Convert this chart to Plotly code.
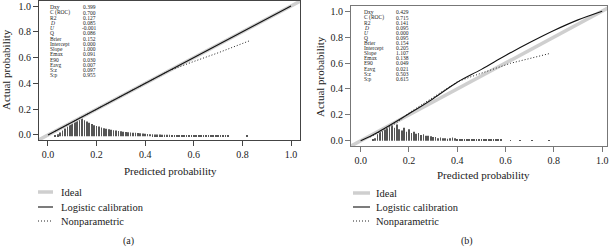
import plotly.graph_objects as go

W, H = 614, 248
FONT = "Liberation Serif"

# ---------------- data ----------------
stat_names = ["Dxy", "C (ROC)", "R2", "<i>D</i>", "<i>U</i>", "Q", "Brier", "Intercept",
              "Slope", "Emax", "E90", "Eavg", "S:z", "S:p"]
stats_a = ["0.399", "0.700", "0.127", "0.085", "-0.001", "0.086", "0.152", "0.000",
           "1.000", "0.091", "0.030", "0.007", "0.097", "0.955"]
stats_b = ["0.429", "0.715", "0.141", "0.095", "0.000", "0.095", "0.154", "0.205",
           "1.107", "0.138", "0.049", "0.021", "0.503", "0.615"]

ideal_x = [-0.05, 1.05]
ideal_y = [-0.05, 1.05]

logit_a_x = [0.0, 0.25, 0.5, 0.75, 1.0]
logit_a_y = [0.0, 0.25, 0.5, 0.75, 1.0]
logit_b_x = [0.0, 0.05, 0.1, 0.2, 0.3, 0.4, 0.5, 0.6, 0.7, 0.8, 0.9, 1.0]
logit_b_y = [0.0, 0.045, 0.097, 0.209, 0.325, 0.452, 0.551, 0.658, 0.758, 0.851, 0.933, 1.0]

nonpar_a_x = [0.03, 0.1, 0.2, 0.3, 0.4, 0.5, 0.6, 0.7, 0.83]
nonpar_a_y = [0.03, 0.1, 0.2, 0.3, 0.4, 0.5, 0.57, 0.637, 0.731]
nonpar_b_x = [0.04, 0.1, 0.15, 0.2, 0.3, 0.4, 0.45, 0.55, 0.62, 0.7, 0.786]
nonpar_b_y = [0.03, 0.09, 0.14, 0.215, 0.335, 0.455, 0.49, 0.553, 0.598, 0.635, 0.675]

spike_a_x = [0.03, 0.04, 0.05, 0.06, 0.07, 0.08, 0.09, 0.10, 0.11, 0.12, 0.13, 0.14, 0.15,
             0.16, 0.17, 0.18, 0.19, 0.20, 0.21, 0.22, 0.23, 0.24, 0.25, 0.26, 0.27, 0.28,
             0.29, 0.30, 0.31, 0.32, 0.33, 0.34, 0.35, 0.36, 0.37, 0.38, 0.39, 0.40, 0.41,
             0.42, 0.43, 0.44, 0.45, 0.46, 0.47, 0.48, 0.49, 0.50, 0.51, 0.52, 0.53, 0.54,
             0.55, 0.56, 0.57, 0.58, 0.59, 0.60, 0.61, 0.62, 0.63, 0.64, 0.65, 0.66, 0.67,
             0.68, 0.69, 0.70, 0.71, 0.72, 0.73, 0.74, 0.82]
spike_a_h = [0.008, 0.015, 0.03, 0.045, 0.06, 0.075, 0.09, 0.105, 0.115, 0.125, 0.135, 0.14, 0.125,
             0.115, 0.105, 0.095, 0.085, 0.08, 0.075, 0.068, 0.062, 0.058, 0.055, 0.05, 0.047, 0.044,
             0.04, 0.038, 0.035, 0.033, 0.031, 0.03, 0.028, 0.027, 0.026, 0.024, 0.022, 0.02, 0.017,
             0.016, 0.015, 0.014, 0.014, 0.013, 0.012, 0.012, 0.011, 0.011, 0.01, 0.009, 0.009, 0.008,
             0.008, 0.008, 0.007, 0.007, 0.007, 0.007, 0.006, 0.006, 0.006, 0.006, 0.006, 0.006, 0.006,
             0.006, 0.006, 0.006, 0.006, 0.005, 0.005, 0.005, 0.005]

spike_b_x = [0.05, 0.06, 0.07, 0.08, 0.09, 0.10, 0.11, 0.12, 0.13, 0.14, 0.15, 0.16, 0.17,
             0.18, 0.19, 0.20, 0.21, 0.22, 0.23, 0.24, 0.25, 0.26, 0.27, 0.28, 0.29, 0.30,
             0.31, 0.32, 0.33, 0.34, 0.35, 0.36, 0.37, 0.38, 0.39, 0.40, 0.41, 0.42, 0.43,
             0.44, 0.45, 0.46, 0.47, 0.48, 0.49, 0.50, 0.51, 0.52, 0.53, 0.54, 0.55, 0.56,
             0.57, 0.58, 0.62, 0.66, 0.71, 0.78]
spike_b_h = [0.01, 0.02, 0.05, 0.07, 0.1, 0.09, 0.12, 0.11, 0.13, 0.1, 0.125, 0.09, 0.08,
             0.1, 0.07, 0.09, 0.06, 0.07, 0.055, 0.06, 0.045, 0.05, 0.04, 0.04, 0.035, 0.03,
             0.03, 0.02, 0.025, 0.02, 0.02, 0.015, 0.02, 0.025, 0.02, 0.012, 0.012, 0.01, 0.012,
             0.01, 0.01, 0.012, 0.009, 0.01, 0.009, 0.009, 0.01, 0.008, 0.008, 0.008, 0.008, 0.007,
             0.007, 0.007, 0.006, 0.006, 0.006, 0.006]

tick_vals = [0.0, 0.2, 0.4, 0.6, 0.8, 1.0]
tick_text = ["0.0", "0.2", "0.4", "0.6", "0.8", "1.0"]
legend_labels = ["Ideal", "Logistic calibration", "Nonparametric"]
captions = ["(a)", "(b)"]

# ---------------- figure ----------------
fig = go.Figure()

def px(x):
    return x / W

def py(y):
    return 1 - y / H

DOT = "1px,2px"

panels = [
    dict(xa="x", ya="y", lx=logit_a_x, ly=logit_a_y, nx=nonpar_a_x, ny=nonpar_a_y,
         sx=spike_a_x, sh=spike_a_h, base=-0.01, stats=stats_a),
    dict(xa="x2", ya="y2", lx=logit_b_x, ly=logit_b_y, nx=nonpar_b_x, ny=nonpar_b_y,
         sx=spike_b_x, sh=spike_b_h, base=0.0, stats=stats_b),
]

for p in panels:
    fig.add_trace(go.Bar(x=p["sx"], y=p["sh"], base=p["base"], width=0.003,
                         marker=dict(color="#555555", line=dict(width=0)),
                         xaxis=p["xa"], yaxis=p["ya"], showlegend=False))
    fig.add_trace(go.Scatter(x=ideal_x, y=ideal_y, mode="lines",
                             line=dict(color="#cfcfcf", width=3.5),
                             xaxis=p["xa"], yaxis=p["ya"], showlegend=False))
    fig.add_trace(go.Scatter(x=p["lx"], y=p["ly"], mode="lines", line_shape="spline",
                             line=dict(color="#111111", width=1.1),
                             xaxis=p["xa"], yaxis=p["ya"], showlegend=False))
    fig.add_trace(go.Scatter(x=p["nx"], y=p["ny"], mode="lines",
                             line=dict(color="#222222", width=1, dash=DOT),
                             xaxis=p["xa"], yaxis=p["ya"], showlegend=False))

axis_common = dict(showgrid=False, zeroline=False, showline=True, mirror=True,
                   ticks="outside", ticklen=5, tickwidth=1,
                   tickvals=tick_vals, ticktext=tick_text,
                   tickfont=dict(family=FONT, size=10, color="#222"))

fig.update_layout(
    width=W, height=H, margin=dict(l=0, r=0, t=0, b=0),
    paper_bgcolor="white", plot_bgcolor="white", barmode="overlay",
    font=dict(family=FONT, color="#222"),
    xaxis=dict(domain=[px(39), px(300)], range=[-0.037, 1.037], anchor="y",
               linecolor="#444", tickcolor="#444", **axis_common),
    yaxis=dict(domain=[py(140), py(1)], range=[-0.039, 1.039], anchor="x",
               linecolor="#444", tickcolor="#444", **axis_common),
    xaxis2=dict(domain=[px(351), px(607)], range=[-0.04, 1.02], anchor="y2",
                linecolor="#777", tickcolor="#777", **axis_common),
    yaxis2=dict(domain=[py(146), py(6)], range=[-0.04, 1.04], anchor="x2",
                linecolor="#777", tickcolor="#777", **axis_common),
)

annotations = []
shapes = []

# stats blocks
stat_layout = [
    dict(xr="x", yr="y", xl=0.0, xv=0.205, y0=0.99, dy=0.0405),
    dict(xr="x2", yr="y2", xl=0.005, xv=0.209, y0=0.99, dy=0.0393),
]
for p, sl in zip(panels, stat_layout):
    for i, (n, v) in enumerate(zip(stat_names, p["stats"])):
        yy = sl["y0"] - i * sl["dy"]
        annotations.append(dict(x=sl["xl"], y=yy, xref=sl["xr"], yref=sl["yr"], text=n,
                                showarrow=False, xanchor="left", yanchor="middle",
                                font=dict(family=FONT, size=5.5, color="#222")))
        annotations.append(dict(x=sl["xv"], y=yy, xref=sl["xr"], yref=sl["yr"], text=v,
                                showarrow=False, xanchor="right", yanchor="middle",
                                font=dict(family=FONT, size=5.5, color="#222")))

# axis titles
for (cx, cy), (tx, ty) in [((170, 171), (6, 70)), ((483, 175), (320, 77))]:
    annotations.append(dict(x=px(cx), y=py(cy), xref="paper", yref="paper",
                            text="Predicted probability", showarrow=False,
                            xanchor="center", yanchor="middle",
                            font=dict(family=FONT, size=11, color="#222")))
    annotations.append(dict(x=px(tx), y=py(ty), xref="paper", yref="paper",
                            text="Actual probability", showarrow=False, textangle=-90,
                            xanchor="center", yanchor="middle",
                            font=dict(family=FONT, size=11, color="#222")))

# legends
leg_styles = [dict(color="#cfcfcf", width=3.5, dash="solid"),
              dict(color="#111111", width=1.1, dash="solid"),
              dict(color="#222222", width=1, dash=DOT)]
for (x0, x1, xt, ys) in [(38, 53, 59, [192, 207, 221]), (353, 370, 374, [193, 207, 221])]:
    for lab, st, yy in zip(legend_labels, leg_styles, ys):
        shapes.append(dict(type="line", xref="paper", yref="paper",
                           x0=px(x0), x1=px(x1), y0=py(yy), y1=py(yy),
                           line=st))
        annotations.append(dict(x=px(xt), y=py(yy), xref="paper", yref="paper",
                                text=lab, showarrow=False, xanchor="left", yanchor="middle",
                                font=dict(family=FONT, size=10.5, color="#222")))

# captions
for cap, (cx, cy) in zip(captions, [(128, 241), (467, 241)]):
    annotations.append(dict(x=px(cx), y=py(cy), xref="paper", yref="paper", text=cap,
                            showarrow=False, xanchor="center", yanchor="middle",
                            font=dict(family=FONT, size=10, color="#222")))

fig.update_layout(annotations=annotations, shapes=shapes)
fig.write_html("out.html", config={"displayModeBar": False},
               post_script="document.body.style.margin='0';document.body.style.padding='0';")
